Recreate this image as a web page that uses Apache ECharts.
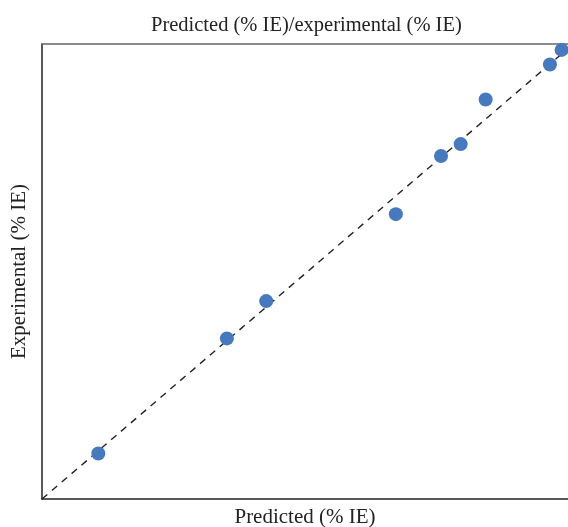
<!DOCTYPE html>
<html><head><meta charset="utf-8">
<script src="https://cdn.jsdelivr.net/npm/echarts@6/dist/echarts.min.js"></script>
<style>html,body{margin:0;padding:0;background:#fff}#c{width:568px;height:527px}</style>
</head><body><div id="c"></div>
<script>
var predicted = [10.6, 34.8, 42.2, 66.6, 75.1, 78.8, 83.5, 95.6, 97.8];
var experimental = [10.0, 35.3, 43.5, 62.6, 75.4, 78.0, 87.8, 95.5, 98.7];
var diagonal = [[0, 0], [99, 99]];
var titleText = 'Predicted (% IE)/experimental (% IE)';
var xName = 'Predicted (% IE)';
var yName = 'Experimental (% IE)';

var pts = predicted.map(function (v, i) { return [v, experimental[i]]; });
var font = 'Liberation Serif';
var chart = echarts.init(document.getElementById('c'), null, {renderer: 'canvas'});
chart.setOption({
  animation: false,
  backgroundColor: '#fff',
  title: {text: titleText, left: 146, top: 10, textStyle: {fontFamily: font, fontSize: 20.5, fontWeight: 'normal', color: '#222'}},
  grid: {left: 42, right: 0, top: 44, bottom: 28, outerBoundsMode: 'none', containLabel: false},
  xAxis: [{
    type: 'value', min: 0, max: 99, name: xName, nameLocation: 'middle', nameGap: 8,
    nameTextStyle: {fontFamily: font, fontSize: 21, color: '#222', verticalAlign: 'top'},
    axisLine: {show: true, lineStyle: {color: '#222', width: 1.5}},
    axisTick: {show: false}, axisLabel: {show: false}, splitLine: {show: false}
  }, {
    type: 'value', min: 0, max: 99, position: 'top',
    axisLine: {show: true, onZero: false, lineStyle: {color: '#666', width: 1.5}},
    axisTick: {show: false}, axisLabel: {show: false}, splitLine: {show: false}
  }],
  yAxis: {
    type: 'value', min: 0, max: 100, name: yName, nameLocation: 'middle', nameGap: 12,
    nameTextStyle: {fontFamily: font, fontSize: 21, color: '#222', verticalAlign: 'bottom'},
    axisLine: {show: true, lineStyle: {color: '#222', width: 1.5}},
    axisTick: {show: false}, axisLabel: {show: false}, splitLine: {show: false}
  },
  series: [{
    type: 'line', data: diagonal, symbol: 'none', silent: true, z: 1,
    lineStyle: {color: '#222', width: 1.4, type: [7, 6]}
  }, {
    type: 'scatter', data: pts, symbolSize: 14, z: 5,
    itemStyle: {color: '#4679bd', opacity: 1}
  }]
});
</script></body></html>
